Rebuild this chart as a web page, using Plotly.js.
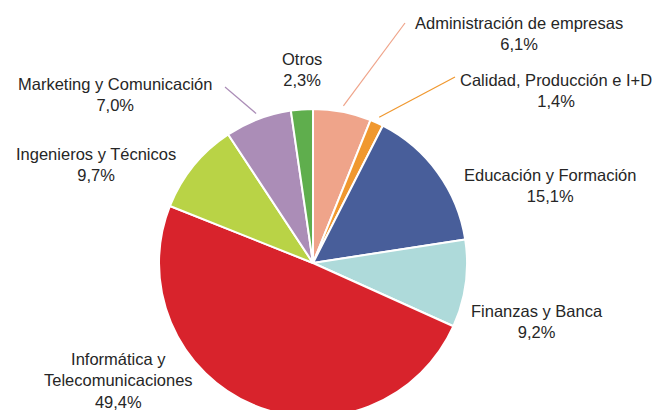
<!DOCTYPE html>
<html>
<head>
<meta charset="utf-8">
<script src="https://cdn.plot.ly/plotly-3.0.1.min.js"></script>
<style>
html,body{margin:0;padding:0;background:#fff;overflow:hidden;width:658px;height:410px;}
#chart{width:658px;height:430px;}
</style>
</head>
<body>
<div id="chart"></div>
<script>
// Data
const categories = ["Administración de empresas", "Calidad, Producción e I+D", "Educación y Formación", "Finanzas y Banca", "Informática y Telecomunicaciones", "Ingenieros y Técnicos", "Marketing y Comunicación", "Otros"];
const labelTexts = ["Administración de empresas", "Calidad, Producción e I+D", "Educación y Formación", "Finanzas y Banca", "Informática y<br>Telecomunicaciones", "Ingenieros y Técnicos", "Marketing y Comunicación", "Otros"];
const values = [6.1, 1.4, 15.1, 9.2, 49.4, 9.7, 7.0, 2.3];
const valueLabels = ["6,1%", "1,4%", "15,1%", "9,2%", "49,4%", "9,7%", "7,0%", "2,3%"];
const colors = ["#EFA48A", "#F0982F", "#485E9A", "#AEDADA", "#D8232C", "#B9D346", "#AB8DB7", "#5FAE4D"];
const hasLeader = [true, true, false, false, false, false, true, false];

// Layout geometry (pixels)
const W = 658, H = 430;
const cx = 313, cy = 263, R = 154;
// label block centers (pixels)
const labelPos = [[519, 33], [556, 90], [550, 185], [537, 321], [118, 380], [96, 164], [115, 95], [302, 70]];
// leader end points (pixels)
const leaderEnd = [[405, 23], [455, 77], null, null, null, null, [225, 87], null];

const px = x => x / W;
const py = y => (H - y) / H;

const total = values.reduce((a, b) => a + b, 0);
const annotations = [];
const shapes = [];
let cum = 0;
values.forEach((v, i) => {
  const mid = (cum + v / 2) / total * 2 * Math.PI;
  cum += v;
  annotations.push({
    xref: "paper", yref: "paper",
    x: px(labelPos[i][0]), y: py(labelPos[i][1]),
    xanchor: "center", yanchor: "middle",
    text: labelTexts[i] + "<br>" + valueLabels[i],
    showarrow: false,
    align: "center",
    font: {family: "Liberation Sans, Arial, sans-serif", size: 16.5, color: "#262626"}
  });
  if (hasLeader[i]) {
    const rs = R + 6;
    const sx = cx + rs * Math.sin(mid), sy = cy - rs * Math.cos(mid);
    shapes.push({
      type: "line", xref: "paper", yref: "paper",
      x0: px(sx), y0: py(sy), x1: px(leaderEnd[i][0]), y1: py(leaderEnd[i][1]),
      line: {color: colors[i], width: 1.2}
    });
  }
});

const trace = {
  type: "pie",
  labels: categories,
  values: values,
  sort: false,
  direction: "clockwise",
  rotation: 0,
  textinfo: "none",
  textposition: "none",
  hoverinfo: "none",
  marker: {colors: colors, line: {color: "#ffffff", width: 2}},
  domain: {x: [px(cx - R), px(cx + R)], y: [py(cy + R), py(cy - R)]},
  showlegend: false
};

const layout = {
  width: W, height: H,
  margin: {l: 0, r: 0, t: 0, b: 0},
  paper_bgcolor: "#ffffff",
  plot_bgcolor: "#ffffff",
  showlegend: false,
  annotations: annotations,
  shapes: shapes
};

Plotly.newPlot("chart", [trace], layout, {staticPlot: true, displayModeBar: false});
</script>
</body>
</html>
